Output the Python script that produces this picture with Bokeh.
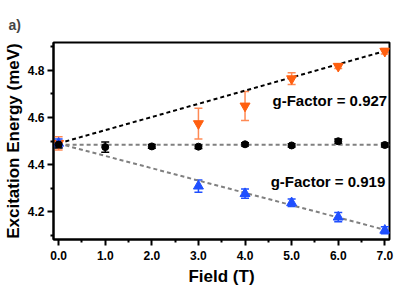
from bokeh.plotting import figure
from bokeh.models import ColumnDataSource, Whisker, TeeHead, FixedTicker, PrintfTickFormatter, Range1d
from bokeh.core.properties import value
from bokeh.embed import file_html
from bokeh.resources import INLINE

# Data
field_mid = [0, 1, 2, 3, 4, 5, 6, 7]
energy_mid = [4.485, 4.474, 4.477, 4.476, 4.486, 4.481, 4.499, 4.483]
err_mid = [0.015, 0.022, 0.008, 0.008, 0.007, 0.007, 0.01, 0.009]

field_up = [0, 3, 4, 5, 6, 7]
energy_up = [4.490, 4.574, 4.649, 4.765, 4.818, 4.882]
err_up = [0.028, 0.065, 0.062, 0.025, 0.01, 0.012]

field_dn = [0, 3, 4, 5, 6, 7]
energy_dn = [4.490, 4.308, 4.276, 4.237, 4.176, 4.120]
err_dn = [0.018, 0.026, 0.02, 0.016, 0.02, 0.015]

fit_x = [0.0, 7.1]
fit_up = [4.490, 4.888]
fit_mid = [4.484, 4.484]
fit_dn = [4.489, 4.117]

label_text = ["g-Factor = 0.927", "g-Factor = 0.919"]
label_x = [4.59, 4.55]
label_y = [4.671, 4.326]

x_ticks = [0, 1, 2, 3, 4, 5, 6, 7]
x_minor = [0.5, 1.5, 2.5, 3.5, 4.5, 5.5, 6.5]
y_ticks = [4.2, 4.4, 4.6, 4.8]
y_minor = [4.1, 4.3, 4.5, 4.7, 4.9]

ORANGE = "#FF5F0F"
ORANGE_ERR = "#FF8A55"
BLUE = "#1F4FFF"
FONT = "Liberation Sans"

p = figure(frame_width=336, frame_height=197, output_backend="svg", toolbar_location=None,
           x_range=Range1d(-0.11, 7.1), y_range=Range1d(4.081, 4.919),
           min_border_left=45, min_border_right=18, min_border_top=42, min_border_bottom=48)

p.xgrid.visible = False
p.ygrid.visible = False
p.outline_line_color = "black"
p.outline_line_width = 2
p.outline_line_alpha = 1

p.title.text = "a)"
p.title.text_font = FONT
p.title.text_font_size = "14px"
p.title.text_font_style = "bold"
p.title.align = "left"
p.title.offset = -45
p.title.standoff = 20

for ax in (p.xaxis[0], p.yaxis[0]):
    ax.axis_line_width = 2
    ax.axis_line_color = "black"
    ax.major_tick_line_width = 2
    ax.minor_tick_line_width = 2
    ax.major_tick_out = 6
    ax.major_tick_in = 0
    ax.minor_tick_out = 3
    ax.minor_tick_in = 0
    ax.major_label_text_font = FONT
    ax.major_label_text_font_size = "12px"
    ax.major_label_text_font_style = "bold"
    ax.major_label_text_color = "black"
    ax.axis_label_text_font = FONT
    ax.axis_label_text_font_size = "17px"
    ax.axis_label_text_font_style = "bold"
    ax.axis_label_text_color = "black"
    ax.formatter = PrintfTickFormatter(format="%.1f")

p.xaxis.ticker = FixedTicker(ticks=x_ticks, minor_ticks=x_minor)
p.yaxis.ticker = FixedTicker(ticks=y_ticks, minor_ticks=y_minor)
p.xaxis.axis_label = "Field (T)"
p.yaxis.axis_label = "Excitation Energy (meV)"
p.xaxis.major_label_standoff = 5
p.yaxis.major_label_standoff = 3
p.xaxis.axis_label_standoff = 4
p.yaxis.axis_label_standoff = 2

# fit lines
p.line(fit_x, fit_mid, line_color="#808080", line_width=2, line_dash="4 3")
p.line(fit_x, fit_dn, line_color="#808080", line_width=2, line_dash="4 3")
p.line(fit_x, fit_up, line_color="black", line_width=2, line_dash="4 3")

def add_series(xs, ys, es, marker, color, err_color, size):
    src = ColumnDataSource(dict(x=xs, y=ys,
                                lo=[y - e for y, e in zip(ys, es)],
                                hi=[y + e for y, e in zip(ys, es)]))
    w = Whisker(source=src, base="x", lower="lo", upper="hi", dimension="height",
                line_color=err_color, line_width=1.5,
                lower_head=TeeHead(size=8, line_color=err_color, line_width=1.5),
                upper_head=TeeHead(size=8, line_color=err_color, line_width=1.5))
    p.add_layout(w)
    p.scatter("x", "y", source=src, marker=marker, size=size,
              fill_color=color, line_color=color)

add_series(field_up, energy_up, err_up, "inverted_triangle", ORANGE, ORANGE_ERR, 10)
add_series(field_dn, energy_dn, err_dn, "triangle", BLUE, BLUE, 10)
add_series(field_mid, energy_mid, err_mid, "circle", "black", "black", 7)

p.text(x=label_x, y=label_y, text=label_text, text_font=value(FONT),
       text_font_size="15px", text_font_style="bold", text_baseline="middle",
       text_align="left", text_color="black")

open("out.html", "w").write(file_html(p, INLINE))
